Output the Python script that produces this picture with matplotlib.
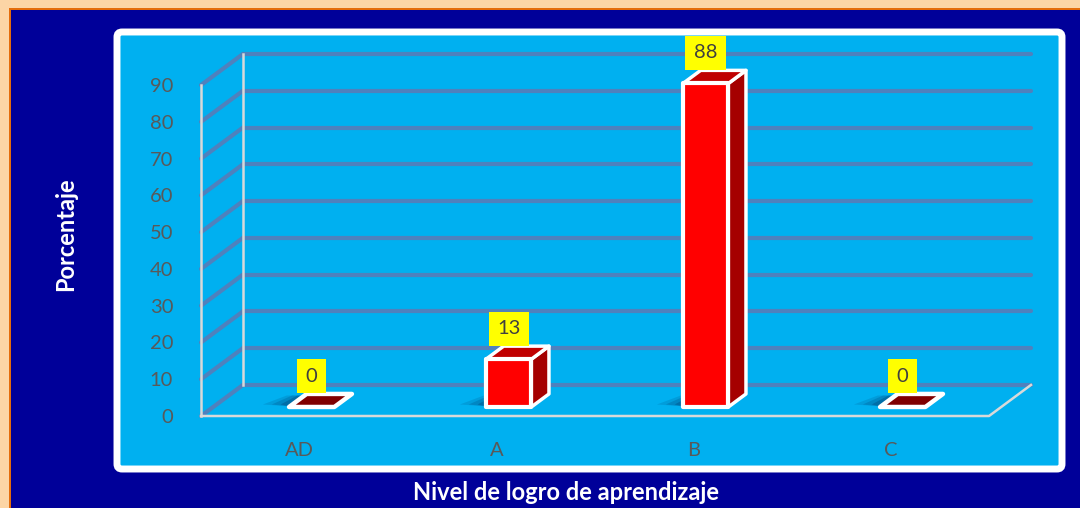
import matplotlib
matplotlib.use('Agg')
from matplotlib import pyplot as plt
from matplotlib.patches import Polygon, Rectangle, FancyBboxPatch

## data
categories = ['AD', 'A', 'B', 'C']
values = [0, 13, 88, 0]
y_ticks = [0, 10, 20, 30, 40, 50, 60, 70, 80, 90]
y_title = 'Porcentaje'
x_title = 'Nivel de logro de aprendizaje'

## oblique 3d look: depth shift in data units
DX = 0.213
DY = 8.45
D0, D1 = 0.29, 0.71   # bar depth (front, back)
W = 0.23              # bar width

def proj(x, y, d):
    return x + d * DX, y + d * DY

plt.rcParams['font.family'] = ['Lato', 'DejaVu Sans']

fig = plt.figure(figsize=(10.8, 5.08), dpi=100, facecolor='#000099')
inch = fig.dpi_scale_trans

def px(x, y):  # pixel (from top-left) -> inches
    return x / 100, (508 - y) / 100

## peach frame top / left
fig.add_artist(Rectangle(px(0, 8), 10.8, 0.08, transform=inch, color='#FCD5A5', lw=0, zorder=-5))
fig.add_artist(Rectangle(px(0, 508), 0.09, 5.08, transform=inch, color='#FCD5A5', lw=0, zorder=-5))
fig.add_artist(Rectangle(px(9, 10), 10.8, 0.02, transform=inch, color='#E46C0A', lw=0, zorder=-4))
fig.add_artist(Rectangle(px(9, 508), 0.02, 4.98, transform=inch, color='#E46C0A', lw=0, zorder=-4))

## white framed plot area
x0, y0 = px(117, 469)
fig.add_artist(FancyBboxPatch((x0, y0), (1062 - 117) / 100, (469 - 32) / 100, transform=inch,
                              boxstyle='round,pad=0,rounding_size=0.05',
                              facecolor='#00B0F0', edgecolor='white', lw=5, zorder=-3))

ax = fig.add_axes([201 / 1080, (508 - 416) / 508, (1031 - 201) / 1080, (416 - 54) / 508])
ax.set_xlim(-0.5, len(categories) - 0.5 + DX)
ax.set_ylim(0, y_ticks[-1] + DY)
ax.patch.set_visible(False)
for s in ax.spines.values():
    s.set_visible(False)

grid_c = '#4F81BD'
wall_c = '#D9D9D9'
xl, xr = -0.5, len(categories) - 0.5

## gridlines on back wall and side wall
for v in y_ticks:
    bx, by = zip(proj(xl, v, 1), proj(xr, v, 1))
    ax.plot(bx, by, color=grid_c, lw=3, solid_capstyle='round', clip_on=False, zorder=1)
    sx, sy = zip(proj(xl, v, 0), proj(xl, v, 1))
    ax.plot(sx, sy, color=grid_c, lw=3, solid_capstyle='round', clip_on=False, zorder=1)

## wall edges
for d in (0, 1):
    ex, ey = zip(proj(xl, 0, d), proj(xl, y_ticks[-1], d))
    ax.plot(ex, ey, color=wall_c, lw=1.8, clip_on=False, zorder=2)
fx, fy = zip(proj(xl, 0, 0), proj(xr, 0, 0), proj(xr, 0, 1))
ax.plot(fx, fy, color=wall_c, lw=1.8, clip_on=False, zorder=2)

## bars
for i, v in enumerate(values):
    a, b = i - W / 2, i + W / 2
    # soft shadow on the floor
    for k, al in enumerate([0.12, 0.16, 0.22]):
        g = 0.15 - k * 0.045
        ax.add_patch(Polygon([proj(a - g, 0, D0 + 0.08), proj(a, 0, D0 + 0.02),
                              proj(a, 0, D1 - 0.05), proj(a - g * 0.6, 0, D1 - 0.05)],
                             closed=True, facecolor='#001848', alpha=al, lw=0, zorder=3))
    if v == 0:
        ax.add_patch(Polygon([proj(a, 0, D0), proj(b, 0, D0), proj(b, 0, D1), proj(a, 0, D1)],
                             closed=True, facecolor='#800000', edgecolor='white', lw=3.2,
                             joinstyle='round', zorder=4))
    else:
        side = [proj(b, 0, D0), proj(b, 0, D1), proj(b, v, D1), proj(b, v, D0)]
        top = [proj(a, v, D0), proj(b, v, D0), proj(b, v, D1), proj(a, v, D1)]
        front = [proj(a, 0, D0), proj(b, 0, D0), proj(b, v, D0), proj(a, v, D0)]
        ax.add_patch(Polygon(side, closed=True, facecolor='#A50000', edgecolor='white', lw=2.5,
                             joinstyle='round', zorder=4))
        ax.add_patch(Polygon(top, closed=True, facecolor='#C00000', edgecolor='white', lw=2.5,
                             joinstyle='round', zorder=4))
        ax.add_patch(Polygon(front, closed=True, facecolor='#FF0000', edgecolor='white', lw=3,
                             joinstyle='round', zorder=5))
    lx, ly = proj(i, v, D0)[0], proj(i, v, D1)[1]
    ax.annotate(str(v), xy=(lx, ly), xytext=(0, 9), textcoords='offset pixels',
                ha='center', va='bottom', fontsize=14.5, color='#404040', zorder=6,
                bbox=dict(boxstyle='square,pad=0.42', facecolor='#FFFF00', edgecolor='none'),
                annotation_clip=False)

## axes ticks (front plane)
ax.set_yticks(y_ticks)
ax.set_yticklabels([str(t) for t in y_ticks])
ax.set_xticks(range(len(categories)))
ax.set_xticklabels(categories)
ax.tick_params(axis='y', length=0, pad=20, labelsize=14.5, labelcolor='#595959')
ax.tick_params(axis='x', length=0, pad=19, labelsize=14.5, labelcolor='#595959')

fig.text(*px(66, 234), y_title, transform=inch, rotation=90, ha='center', va='center',
         color='white', fontsize=17, fontweight='bold')
fig.text(*px(566, 493), x_title, transform=inch, ha='center', va='center',
         color='white', fontsize=17, fontweight='bold')

fig.savefig('out.png', dpi=100, facecolor=fig.get_facecolor())
